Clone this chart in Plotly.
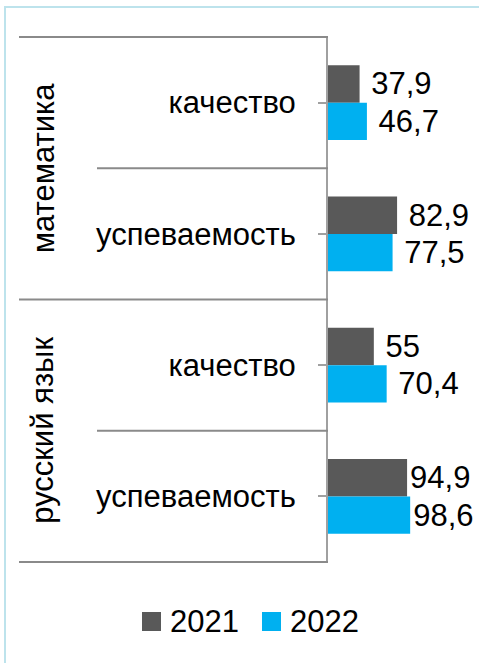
import plotly.graph_objects as go

# ---- data ----
groups = ["математика", "математика", "русский язык", "русский язык"]
subcats = ["качество", "успеваемость", "качество", "успеваемость"]
years = ["2021", "2022"]
values_2021 = [37.9, 82.9, 55, 94.9]
values_2022 = [46.7, 77.5, 70.4, 98.6]
colors = ["#595959", "#00b0f0"]

FONT = "Liberation Sans, Arial, sans-serif"
FS = 31

W, H = 479, 663
ML, MR, MT, MB = 328, 1, 36, 100
PW, PH = W - ML - MR, H - MT - MB
XMAX = 180

def px_x(px):
    return (px - ML) / PW

def px_y(py):
    return (H - MB - py) / PH

keys = [f"{g}|{s}" for g, s in zip(groups, subcats)]

def label(v):
    s = f"{v:g}".replace(".", ",")
    # labels near the right edge sit closer to their bars
    return s if v > 0.5 * XMAX else "\u00a0" + s

fig = go.Figure()
for name, vals, col in zip(years, [values_2021, values_2022], colors):
    fig.add_trace(go.Bar(
        y=keys, x=vals, name=name, orientation="h",
        marker=dict(color=col, line=dict(width=0)),
        text=[label(v) for v in vals],
        textposition="outside", constraintext="none", cliponaxis=False,
        textfont=dict(family=FONT, size=FS, color="black"),
        showlegend=False,
    ))

LINE_COL = "#8a8a8a"
shapes = []
n = len(keys)
for i in range(n + 1):
    b = i - 0.5
    is_group = i == 0 or i == n or groups[i] != groups[i - 1]
    x0 = px_x(19) if is_group else px_x(97)
    shapes.append(dict(type="line", xref="paper", yref="y", x0=x0, x1=0,
                       y0=b, y1=b, line=dict(color=LINE_COL, width=2)))
# outer light-blue frame
shapes.append(dict(type="rect", xref="paper", yref="paper",
                   x0=px_x(5), x1=px_x(W + 20), y0=px_y(7), y1=px_y(H + 20),
                   line=dict(color="#bde3ec", width=2), layer="below"))

annotations = []
seen = []
for g in groups:
    if g not in seen:
        seen.append(g)
for g in seen:
    idx = [i for i, gg in enumerate(groups) if gg == g]
    center = sum(idx) / len(idx)
    annotations.append(dict(text=g, xref="paper", yref="y", x=px_x(43), y=center,
                            textangle=-90, showarrow=False,
                            font=dict(family=FONT, size=FS, color="black"),
                            xanchor="center", yanchor="middle"))

# legend
leg_x = [142, 262]
for lx, name, col in zip(leg_x, years, colors):
    shapes.append(dict(type="rect", xref="paper", yref="paper",
                       x0=px_x(lx), x1=px_x(lx + 19), y0=px_y(631), y1=px_y(612),
                       fillcolor=col, line=dict(width=0)))
    annotations.append(dict(text=name, xref="paper", yref="paper",
                            x=px_x(lx + 26), y=px_y(621), xanchor="left", yanchor="middle",
                            showarrow=False,
                            font=dict(family=FONT, size=FS, color="black")))

fig.update_layout(
    width=W, height=H,
    margin=dict(l=ML, r=MR, t=MT, b=MB),
    paper_bgcolor="white", plot_bgcolor="white",
    barmode="group", bargap=0.43, bargroupgap=0,
    shapes=shapes, annotations=annotations,
    xaxis=dict(range=[0, XMAX], visible=False, fixedrange=True),
    yaxis=dict(type="category", categoryorder="array", categoryarray=keys,
               autorange="reversed", tickmode="array", tickvals=keys, ticktext=subcats,
               showline=True, linecolor="#a0a0a0", linewidth=2,
               ticks="outside", ticklen=8, tickcolor="#a0a0a0", tickwidth=2,
               ticklabelstandoff=16, showgrid=False, zeroline=False,
               fixedrange=True,
               tickfont=dict(family=FONT, size=FS, color="black")),
)

fig.write_html("out.html", config={"displayModeBar": False, "staticPlot": True},
               post_script="document.body.style.margin='0';")
